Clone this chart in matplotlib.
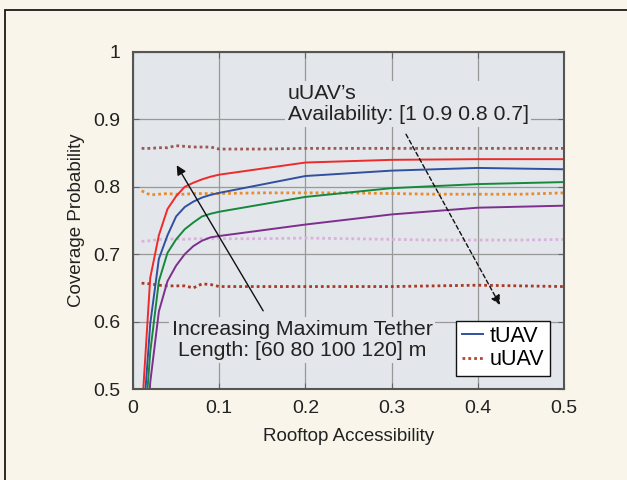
import matplotlib
matplotlib.use('Agg')
import matplotlib.pyplot as plt
import matplotlib.patches as patches

plt.rcParams['font.family'] = ['Liberation Sans', 'DejaVu Sans']

# rooftop accessibility samples for the tUAV curves
x_t = [0.01, 0.02, 0.03, 0.04, 0.05, 0.06, 0.07, 0.08, 0.09, 0.1, 0.2, 0.3, 0.4, 0.5]
t_60 = [0.300, 0.510, 0.615, 0.660, 0.683, 0.700, 0.712, 0.720, 0.725, 0.727, 0.744, 0.759, 0.769, 0.772]
t_80 = [0.380, 0.555, 0.660, 0.702, 0.722, 0.737, 0.747, 0.756, 0.760, 0.763, 0.785, 0.798, 0.804, 0.807]
t_100 = [0.420, 0.597, 0.693, 0.728, 0.756, 0.770, 0.778, 0.784, 0.788, 0.791, 0.816, 0.824, 0.828, 0.826]
t_120 = [0.460, 0.665, 0.728, 0.767, 0.786, 0.800, 0.806, 0.811, 0.815, 0.818, 0.836, 0.840, 0.841, 0.841]

# uUAV curves, one per availability
x_u = [0.01, 0.02, 0.03, 0.04, 0.05, 0.06, 0.07, 0.08, 0.09, 0.1,
       0.15, 0.2, 0.25, 0.3, 0.35, 0.4, 0.45, 0.5]
u_10 = [0.857, 0.857, 0.858, 0.858, 0.861, 0.860, 0.859, 0.859, 0.859, 0.856,
        0.856, 0.857, 0.857, 0.857, 0.857, 0.857, 0.857, 0.857]
u_09 = [0.794, 0.788, 0.789, 0.790, 0.789, 0.789, 0.790, 0.790, 0.790, 0.790,
        0.791, 0.791, 0.791, 0.790, 0.789, 0.789, 0.789, 0.791]
u_08 = [0.719, 0.720, 0.722, 0.722, 0.723, 0.722, 0.723, 0.723, 0.723, 0.723,
        0.723, 0.724, 0.723, 0.722, 0.721, 0.721, 0.721, 0.722]
u_07 = [0.657, 0.656, 0.654, 0.653, 0.653, 0.653, 0.650, 0.656, 0.655, 0.652,
        0.652, 0.652, 0.652, 0.652, 0.653, 0.654, 0.653, 0.652]

x_ticks = [0, 0.1, 0.2, 0.3, 0.4, 0.5]
x_ticklabels = ['0', '0.1', '0.2', '0.3', '0.4', '0.5']
y_ticks = [0.5, 0.6, 0.7, 0.8, 0.9, 1.0]
y_ticklabels = ['0.5', '0.6', '0.7', '0.8', '0.9', '1']

fig_bg = '#FAF5EA'
ax_bg = '#E3E6EA'

fig = plt.figure(figsize=(6.27, 4.8), dpi=100, facecolor=fig_bg)
ax = fig.add_axes([133/627, 91/480, 431/627, 337/480])
ax.set_facecolor(ax_bg)

# outer frame of the figure box (clipped at right and bottom)
fig.patches.append(patches.Rectangle((5/627, -0.2), 1.5, 1.2 - 10/480,
                                     transform=fig.transFigure, fill=False,
                                     edgecolor='#1a1a1a', lw=1.3))

dots = (1.0, 1.1)
ax.plot(x_u, u_10, color='#9C5854', lw=2.0, dashes=dots)
ax.plot(x_u, u_09, color='#E88B2C', lw=2.0, dashes=dots)
ax.plot(x_u, u_08, color='#DDB1DD', lw=2.0, dashes=dots)
ax.plot(x_u, u_07, color='#A83A26', lw=2.0, dashes=dots)

ax.plot(x_t, t_120, color='#EE2A2A', lw=1.4)
ax.plot(x_t, t_100, color='#3050A0', lw=1.4)
ax.plot(x_t, t_80, color='#14893C', lw=1.4)
ax.plot(x_t, t_60, color='#7E2E8E', lw=1.4)

ax.set_xlim(0, 0.5)
ax.set_ylim(0.5, 1)
ax.set_xticks(x_ticks)
ax.set_xticklabels(x_ticklabels)
ax.set_yticks(y_ticks)
ax.set_yticklabels(y_ticklabels)
ax.tick_params(direction='in', length=4, width=0.8, colors='#666666',
               labelcolor='#222222', labelsize=14, top=True, right=True)
ax.tick_params(axis='y', pad=9)
ax.tick_params(axis='x', pad=8)
ax.grid(True, color='#999999', lw=0.9)
ax.set_axisbelow(True)
for s in ax.spines.values():
    s.set_color('#555555')
    s.set_linewidth(1.5)

ax.set_xlabel('Rooftop Accessibility', fontsize=13.5, color='#222222', labelpad=8)
ax.set_ylabel('Coverage Probability', fontsize=13.5, color='#222222', labelpad=6)

# legend
h1, = ax.plot([], [], color='#3050A0', lw=1.4)
h2, = ax.plot([], [], color='#B5452D', lw=2.0, dashes=dots)
leg = ax.legend([h1, h2], ['tUAV', 'uUAV'], loc='lower right',
                bbox_to_anchor=(0.9665, 0.04), fontsize=15.5, frameon=True,
                fancybox=False, handlelength=1.0, handletextpad=0.3,
                borderpad=0.25, labelspacing=0.1, borderaxespad=0)
leg.get_frame().set_edgecolor('#111111')
leg.get_frame().set_linewidth(1.0)
leg.get_frame().set_facecolor('white')
leg.get_frame().set_alpha(1)

box = dict(facecolor=ax_bg, edgecolor='none', pad=2)
ax.text(0.1795, 0.923, "uUAV\u2019s\nAvailability: [1 0.9 0.8 0.7]",
        fontsize=15.3, color='#222222', ha='left', va='center',
        linespacing=1.15, bbox=box)
ax.text(0.196, 0.5727, "Increasing Maximum Tether\nLength: [60 80 100 120] m",
        fontsize=15.3, color='#222222', ha='center', va='center',
        linespacing=1.15, bbox=box)

ax.annotate('', xy=(0.0507, 0.832), xytext=(0.151, 0.616),
            arrowprops=dict(arrowstyle='-|>', color='#111111', lw=1.0,
                            mutation_scale=14, shrinkA=0, shrinkB=0))
ax.annotate('', xy=(0.4258, 0.6246), xytext=(0.3167, 0.878),
            arrowprops=dict(arrowstyle='-|>', color='#111111', lw=1.0,
                            linestyle=(0, (3, 2)), mutation_scale=14,
                            shrinkA=0, shrinkB=0))

plt.savefig('out.png', dpi=100, facecolor=fig_bg)
